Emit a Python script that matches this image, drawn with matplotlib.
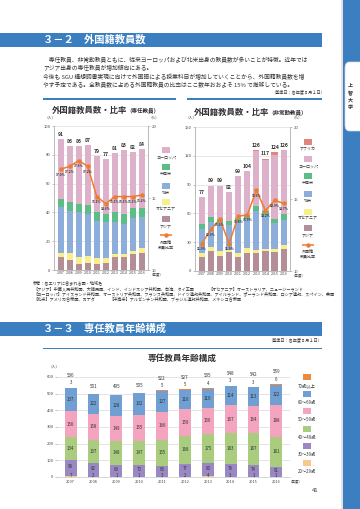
import matplotlib
matplotlib.use("Agg")
import numpy as np
import matplotlib.pyplot as plt
from matplotlib.patches import Rectangle, FancyBboxPatch
from matplotlib.lines import Line2D

plt.rcParams['font.family'] = ['Noto Sans CJK JP', 'DejaVu Sans']

W, H = 360, 509

years = [2007, 2008, 2009, 2010, 2011, 2012, 2013, 2014, 2015, 2016]

# 外国籍教員数（専任）
ft_total = [91, 86, 86, 87, 79, 77, 81, 83, 82, 84]
ft_asia = [9, 7, 4, 5, 4, 5, 9, 9, 11, 12]
ft_oceania = [3, 5, 5, 5, 4, 3, 2, 2, 2, 3]
ft_namerica = [32, 29, 31, 29, 26, 25, 22, 21, 23, 22]
ft_latam = [5, 6, 6, 6, 6, 6, 7, 7, 7, 6]
ft_europe = [42, 39, 40, 42, 39, 38, 41, 44, 39, 41]
ft_ratio = [17.0, 17.2, 17.6, 17.2, 15.1, 14.6, 15.1, 15.1, 15.1, 15.2]

# 外国籍教員数（非常勤）
pt_total = [77, 89, 89, 82, 99, 104, 126, 117, 124, 126]
pt_asia = [15, 21, 16, 20, 15, 19, 19, 21, 20, 23]
pt_oceania = [4, 4, 5, 2, 4, 5, 3, 2, 3, 4]
pt_namerica = [25, 26, 29, 26, 33, 30, 40, 35, 27, 26]
pt_latam = [5, 5, 4, 4, 3, 3, 6, 5, 4, 6]
pt_europe = [28, 33, 35, 30, 44, 47, 57, 53, 67, 67]
pt_africa = [0, 0, 0, 0, 0, 0, 1, 1, 3, 0]
pt_ratio = [11.9, 12.9, 13.6, 11.9, 13.8, 13.9, 15.6, 14.2, 14.9, 14.7]

# 専任教員年齢構成
age_labels = ["20～29歳", "30～39歳", "40～49歳", "50～59歳", "60～69歳", "70歳以上"]
age_20s = [7, 2, 1, 1, 3, 2, 4, 3, 1, 1]
age_30s = [98, 82, 69, 70, 66, 77, 80, 78, 74, 61]
age_40s = [134, 137, 148, 147, 155, 168, 175, 183, 187, 181]
age_50s = [156, 158, 149, 155, 166, 159, 156, 167, 164, 188]
age_60s = [137, 122, 128, 132, 127, 116, 116, 114, 113, 122]
age_70s = [3, 0, 0, 0, 5, 5, 4, 3, 3, 6]
age_total = [536, 501, 495, 505, 522, 527, 535, 548, 542, 559]

BLUE = "#3b7fc1"
C_ASIA, C_OCE, C_NAM, C_LAT, C_EUR, C_AFR = "#b48e96", "#f6ef8a", "#8daedb", "#5dbd86", "#ddb1c9", "#e2857c"
C_LINE = "#ee7c30"
AGE_COLORS = ["#f9c98c", "#9a88c4", "#a9cc7f", "#f4a4bf", "#6f9fd3", "#ee8a3c"]
TXT = "#333333"

fig = plt.figure(figsize=(W / 100, H / 100), dpi=100)
fig.patch.set_facecolor("white")


def ftext(x, y, s, **kw):
    kw.setdefault("color", TXT)
    return fig.text(x / W, 1 - y / H, s, **kw)


def frect(x0, y0, w, h, **kw):
    r = Rectangle((x0 / W, 1 - (y0 + h) / H), w / W, h / H, transform=fig.transFigure, **kw)
    fig.add_artist(r)


def add_ax(x0, y0, x1, y1):
    return fig.add_axes([x0 / W, 1 - y1 / H, (x1 - x0) / W, (y1 - y0) / H])


# ---- page decoration
frect(341, 0, 2, H, color="#e4e4e4", lw=0)
frect(343, 0, 17, H, color=BLUE, lw=0)
tab = FancyBboxPatch((345 / W, 1 - 131 / H), 20 / W, 69 / H, boxstyle="round,pad=0,rounding_size=0.012",
                     transform=fig.transFigure, facecolor="white", edgecolor="#cfd9e6", lw=0.5)
fig.add_artist(tab)
for i, ch in enumerate("上智大学"):
    ftext(350, 86 + i * 7.2, ch, fontsize=3.6, ha="center", va="center", fontweight="bold")

frect(0, 33, 322, 14, color=BLUE, lw=0)
ftext(43, 40, "３－２　外国籍教員数", fontsize=7.4, color="white", fontweight="bold", va="center")

body = [
    "　専任教員、非常勤教員ともに、従来ヨーロッパおよび北米出身の教員数が多いことが特徴。近年では",
    "アジア出身の専任教員が増加傾向にある。",
    "今後も SGU 構想調書実現に向けて外国語による授業科目が増加していくことから、外国籍教員数を増",
    "やす予定である。全教員数に占める外国籍教員の比率はここ数年おおよそ 15% で推移している。",
]
for i, line in enumerate(body):
    ftext(43, 60 + i * 8.4, line, fontsize=4.15, va="center")
ftext(325, 92, "（基準日：各年度５月１日）", fontsize=3.0, ha="right", va="center")

# chart headers
frect(43, 98, 133, 1.6, color=BLUE, lw=0)
frect(187, 98, 135, 1.6, color=BLUE, lw=0)
ftext(52, 110, "外国籍教員数・比率", fontsize=6.0, fontweight="bold", va="center")
ftext(126, 110, "（専任教員）", fontsize=4.0, fontweight="bold", va="center")
ftext(194, 112, "外国籍教員数・比率", fontsize=6.0, fontweight="bold", va="center")
ftext(268, 112, "（非常勤教員）", fontsize=4.0, fontweight="bold", va="center")


def style_ax(ax, ax2):
    for a in (ax, ax2):
        for s in a.spines.values():
            s.set_color("#b5b5b5")
            s.set_linewidth(0.5)
        a.spines["top"].set_visible(False)
        a.tick_params(labelsize=3.0, length=1.5, width=0.4, color="#999999", pad=1, labelcolor="#444444")
    ax.set_axisbelow(True)
    ax.grid(True, axis="y", color="#dddddd", lw=0.5)
    ax.set_xticks(range(10))
    ax.set_xticklabels(years, fontsize=2.6)
    ax.tick_params(axis="x", length=0)


def stacked_chart(box, series, colors, totals, ratio, ymax, ystep, label_gap):
    ax = add_ax(*box)
    x = np.arange(10)
    bottom = np.zeros(10)
    for vals, c in zip(series, colors):
        ax.bar(x, vals, bottom=bottom, width=0.68, color=c, lw=0)
        bottom += np.array(vals)
    for xi, t in zip(x, totals):
        ax.text(xi, t + label_gap, str(t), ha="center", va="bottom", fontsize=3.6,
                fontweight="bold", color=TXT)
    ax.set_ylim(0, ymax)
    ax.set_yticks(np.arange(0, ymax + 1, ystep))
    ax.set_xlim(-0.75, 9.7)
    ax2 = ax.twinx()
    ax2.plot(x, ratio, "-o", color=C_LINE, lw=1.1, ms=2.2)
    for xi, r in zip(x, ratio):
        ax2.annotate("%.1f%%" % r, (xi, r), xytext=(0, -2.5), textcoords="offset points",
                     ha="center", va="top", fontsize=2.25, fontweight="bold", color=TXT)
    ax2.set_ylim(10, 20)
    ax2.set_yticks([10, 15, 20])
    style_ax(ax, ax2)
    return ax


stacked_chart((54, 126, 148, 270),
              [ft_asia, ft_oceania, ft_namerica, ft_latam, ft_europe],
              [C_ASIA, C_OCE, C_NAM, C_LAT, C_EUR], ft_total, ft_ratio, 100, 20, 1.5)
ftext(44, 118, "（人）", fontsize=2.7, va="center")
ftext(148, 118, "（%）", fontsize=2.7, va="center")
ftext(150, 274, "（年度）", fontsize=2.5, va="center")

stacked_chart((195, 127, 290, 271),
              [pt_asia, pt_oceania, pt_namerica, pt_latam, pt_europe, pt_africa],
              [C_ASIA, C_OCE, C_NAM, C_LAT, C_EUR, C_AFR], pt_total, pt_ratio, 150, 30, 2.5)
ftext(185, 118, "（人）", fontsize=2.7, va="center")
ftext(291, 118, "（%）", fontsize=2.7, va="center")
ftext(292, 275, "（年度）", fontsize=2.5, va="center")


def legend_block(xc, entries, line_y, line_label_y):
    for name, c, sy, ly in entries:
        frect(xc - 4, sy - 3, 8, 6, color=c, lw=0)
        ftext(xc, ly, name, fontsize=2.9, ha="center", va="center")
    fig.add_artist(Line2D([(xc - 6) / W, (xc + 6) / W], [1 - line_y / H] * 2, transform=fig.transFigure,
                          color=C_LINE, lw=1.1, solid_capstyle="butt"))
    fig.add_artist(Line2D([xc / W], [1 - line_y / H], transform=fig.transFigure, color=C_LINE,
                          marker="o", ms=2.2, lw=0))
    ftext(xc, line_label_y, "外国籍\n教員比率", fontsize=2.9, ha="center", va="center", linespacing=1.1)


legend_block(166, [("ヨーロッパ", C_EUR, 150, 157.5), ("中南米", C_LAT, 167, 174),
                   ("北米", C_NAM, 185.5, 193), ("オセアニア", C_OCE, 202, 209.5),
                   ("アジア", C_ASIA, 219, 226.5)], 235, 245)
legend_block(308, [("アフリカ", C_AFR, 142, 149), ("ヨーロッパ", C_EUR, 159, 167),
                   ("中南米", C_LAT, 176, 183), ("北米", C_NAM, 194, 201),
                   ("オセアニア", C_OCE, 212, 218.5), ("アジア", C_ASIA, 228, 236)], 245, 254)

# notes
ftext(33, 283, "参考：各エリアに含まれる国・地域名", fontsize=3.0, va="center")
ftext(33, 289, "【アジア】中華人民共和国、大韓民国、インド、インドネシア共和国、台湾、タイ王国", fontsize=3.0, va="center")
ftext(208, 289, "【オセアニア】オーストラリア、ニュージーランド", fontsize=3.0, va="center")
ftext(33, 294, "【ヨーロッパ】アイスランド共和国、オーストリア共和国、フランス共和国、ドイツ連邦共和国、アイルランド、ポーランド共和国、ロシア連邦、スペイン、英国",
      fontsize=3.0, va="center")
ftext(33, 299, "【北米】アメリカ合衆国、カナダ", fontsize=3.0, va="center")
ftext(109, 299, "【中南米】アルゼンチン共和国、ブラジル連邦共和国、メキシコ合衆国", fontsize=3.0, va="center")

# ---- section 3-3
frect(0, 322, 322, 13.5, color=BLUE, lw=0)
ftext(43, 329, "３－３　専任教員年齢構成", fontsize=7.4, color="white", fontweight="bold", va="center")
ftext(322, 340, "（基準日：各年度５月１日）", fontsize=3.0, ha="right", va="center")
frect(43, 347.5, 279, 1.6, color=BLUE, lw=0)
ftext(182, 358, "専任教員年齢構成", fontsize=6.2, fontweight="bold", ha="center", va="center")
ftext(48, 367, "（人）", fontsize=2.7, va="center")

ax3 = add_ax(57, 377, 290, 477)
x = np.arange(10)
age_series = [age_20s, age_30s, age_40s, age_50s, age_60s, age_70s]
bottom = np.zeros(10)
for k, (vals, c) in enumerate(zip(age_series, AGE_COLORS)):
    vals = np.array(vals)
    ax3.bar(x, vals, bottom=bottom, width=0.52, color=c, lw=0)
    for xi in x:
        v = vals[xi]
        if k == 0:
            ax3.text(xi, 9, str(v), ha="center", va="center", fontsize=3.2, color=TXT)
        elif k == 5:
            if v > 0:
                ax3.text(xi, age_total[xi] + 28, str(v), ha="center", va="center", fontsize=3.2,
                         color=TXT, clip_on=False)
        else:
            yc = bottom[xi] + v / 2 + (8 if k == 1 else 0)
            ax3.text(xi, yc, str(v), ha="center", va="center", fontsize=3.2, color=TXT)
    bottom += vals
for xi, t, v70 in zip(x, age_total, age_70s):
    ax3.text(xi, t + (72 if v70 > 0 else 45), str(t), ha="center", va="center", fontsize=3.3,
             color=TXT, clip_on=False)
ax3.set_ylim(0, 600)
ax3.set_yticks(range(0, 601, 100))
ax3.set_xlim(-0.6, 9.6)
ax3.set_xticks(x)
ax3.set_xticklabels(years, fontsize=2.8)
ax3.set_axisbelow(True)
ax3.grid(True, axis="y", color="#d9d9d9", lw=0.5)
for s in ("top", "right", "left"):
    ax3.spines[s].set_visible(False)
ax3.spines["bottom"].set_color("#c8c8c8")
ax3.spines["bottom"].set_linewidth(0.5)
ax3.tick_params(axis="y", labelsize=3.0, length=1.5, width=0.4, color="#999999", pad=1, labelcolor="#444444")
ax3.tick_params(axis="x", length=0, pad=2, labelcolor="#444444")
ftext(289, 481, "（年度）", fontsize=2.5, va="center")

for i in range(6):
    k = 5 - i
    sy = 377 + 17.2 * i
    frect(303, sy - 3, 8, 6, color=AGE_COLORS[k], lw=0)
    ftext(307, sy + 8.5, age_labels[k], fontsize=3.1, ha="center", va="center")

ftext(315, 490, "41", fontsize=4.2, ha="center", va="center")

fig.savefig("out.png", dpi=100, facecolor="white")
